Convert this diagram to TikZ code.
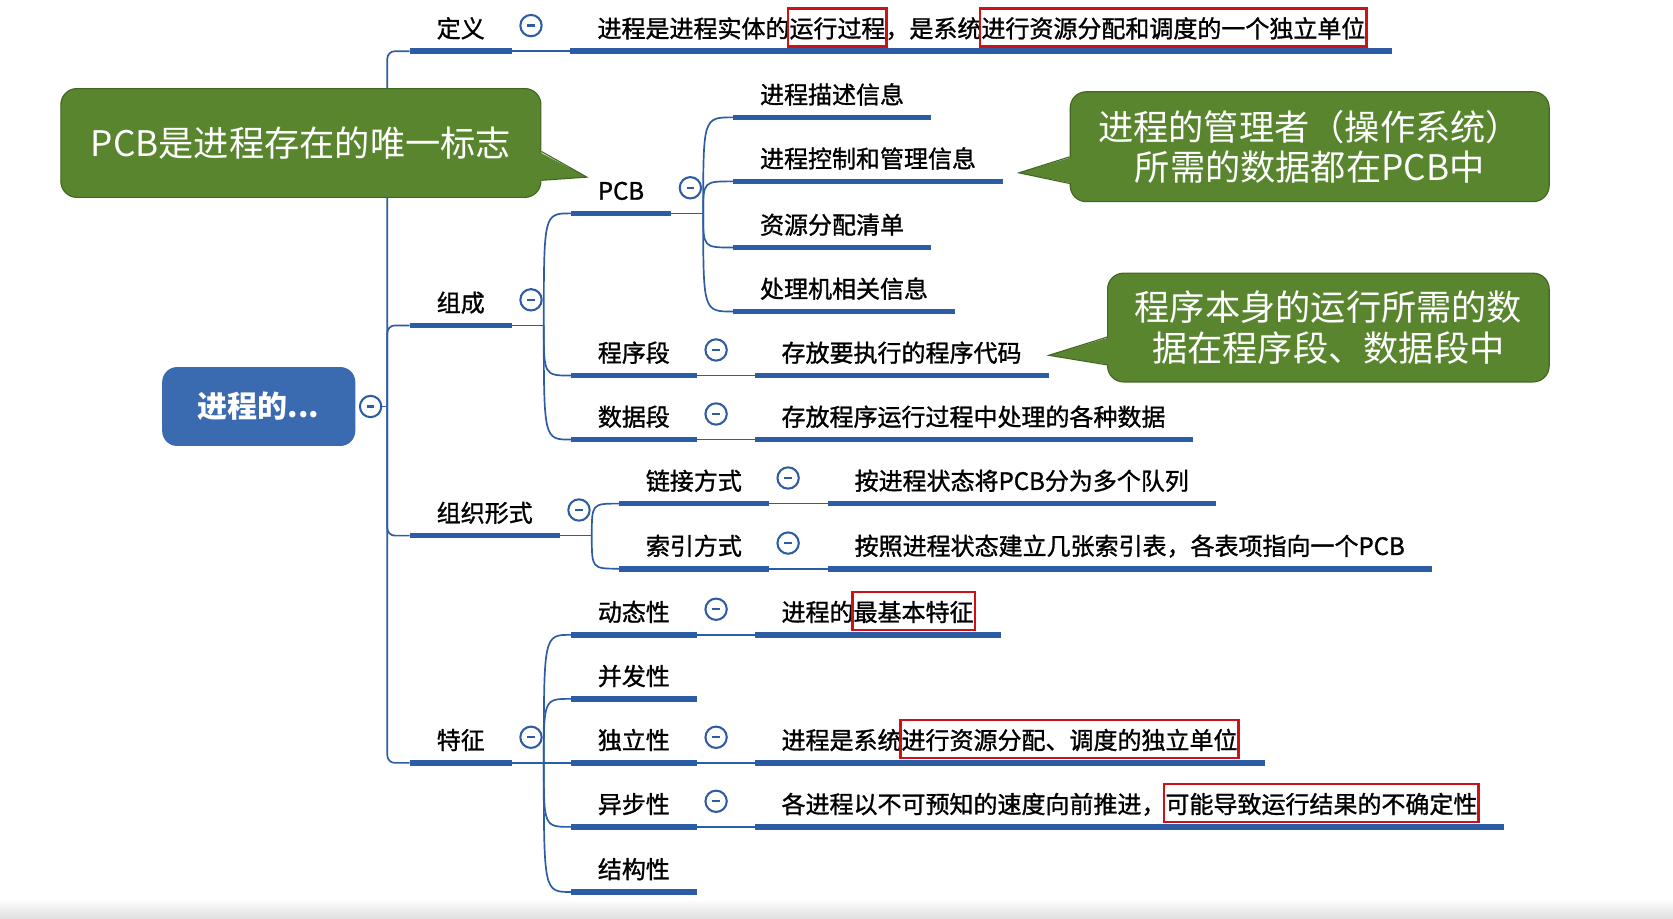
\documentclass[tikz,border=0pt]{standalone}
\usepackage{fontspec}
\setmainfont{Noto Sans CJK SC}
\newfontfamily\labfamily[FakeBold=1.2]{Noto Sans CJK SC}
\usetikzlibrary{calc}

\definecolor{mapblue}{RGB}{44,92,164}
\definecolor{rootblue}{RGB}{58,106,176}
\definecolor{notegreen}{RGB}{89,133,47}
\definecolor{noteedge}{RGB}{66,102,34}
\definecolor{markred}{RGB}{205,17,23}

\newcommand\labfont{\labfamily\fontsize{12.8pt}{15pt}\selectfont}
\newcommand\notefont{\fontsize{18.8pt}{21.5pt}\selectfont}
\newcommand\rootfont{\fontsize{16pt}{18pt}\selectfont\bfseries}
\newcommand\redmark[1]{{\setlength\fboxsep{0pt}\setlength\fboxrule{1.4pt}%
  \kern-1.4pt\fcolorbox{markred}{white}{\rule[-0.14cm]{0pt}{0.66cm}#1}\kern-1.4pt}}

\tikzset{
  lab/.style={font=\labfont, anchor=south west, inner xsep=0.5cm, inner ysep=0.25cm,
    text height=0.4cm, text depth=0pt},
  uline/.style={mapblue, line width=3pt},
  thinline/.style={mapblue, line width=0.9pt},
  fold/.style={circle, draw=mapblue, line width=1.1pt, fill=white, minimum size=0.4cm,
    inner sep=0pt, path picture={\draw[mapblue, line width=1.2pt]
      ([xshift=-0.07cm]path picture bounding box.center) --
      ([xshift=0.07cm]path picture bounding box.center);}},
  rootbox/.style={rounded corners=0.28cm, fill=rootblue, text=white, font=\rootfont,
    minimum width=3.62cm, minimum height=1.48cm},
  note/.style={rounded corners=0.3cm, fill=notegreen, draw=noteedge, line width=0.6pt,
    text=white, font=\notefont, align=center, inner sep=0pt},
  noteline/.style={noteedge, line width=0.6pt},
}

\begin{document}
\begin{tikzpicture}[x=0.02cm, y=-0.02cm]
\useasboundingbox (0,0) rectangle (1568,861);
\shade[top color=white, bottom color=black!12] (0,842) rectangle (1568,861);

% root
\node[rootbox] (root) at (242.5,381) {进程的...};
\node[fold] (rootf) at ($(root.east)+(14,0)$) {};
\coordinate (trunk) at (363,381);

% first level
\node[lab] (def) at (384,48) {定义};
\node[lab] (comp) at (384,305) {组成};
\node[lab] (org) at (384,502) {组织形式};
\node[lab] (feat) at (384,715) {特征};

% 定义
\node[lab] (defl) at ($(def.south east)+(55,0)$) {进程是进程实体的\redmark{运行过程}，是系统\redmark{进行资源分配和调度的一个独立单位}};

% 组成
\coordinate (jcomp) at ($(comp.south east)+(30,0)$);
\node[lab] (pcb) at (535,200) {PCB};
\node[lab] (prog) at (535,352) {程序段};
\node[lab] (data) at (535,412) {数据段};
\node[lab] (progl) at ($(prog.south east)+(54,0)$) {存放要执行的程序代码};
\node[lab] (datal) at ($(data.south east)+(54,0)$) {存放程序运行过程中处理的各种数据};
\coordinate (jpcb) at ($(pcb.south east)+(30,0)$);
\node[lab] (pcbA) at (687,110) {进程描述信息};
\node[lab] (pcbB) at (687,170) {进程控制和管理信息};
\node[lab] (pcbC) at (687,232) {资源分配清单};
\node[lab] (pcbD) at (687,292) {处理机相关信息};

% 组织形式
\coordinate (jorg) at ($(org.south east)+(30,0)$);
\node[lab] (chain) at (580,472) {链接方式};
\node[lab] (idx) at (580,533) {索引方式};
\node[lab] (chainl) at ($(chain.south east)+(55,0)$) {按进程状态将PCB分为多个队列};
\node[lab] (idxl) at ($(idx.south east)+(55,0)$) {按照进程状态建立几张索引表，各表项指向一个PCB};

% 特征
\coordinate (jfeat) at ($(feat.south east)+(30,0)$);
\node[lab] (dyn) at (535,595) {动态性};
\node[lab] (conc) at (535,655) {并发性};
\node[lab] (indep) at (535,715) {独立性};
\node[lab] (async) at (535,775) {异步性};
\node[lab] (struc) at (535,836) {结构性};
\node[lab] (dynl) at ($(dyn.south east)+(54,0)$) {进程的\redmark{最基本特征}};
\node[lab] (indepl) at ($(indep.south east)+(54,0)$) {进程是系统\redmark{进行资源分配、调度的独立单位}};
\node[lab] (asyncl) at ($(async.south east)+(54,0)$) {各进程以不可预知的速度向前推进，\redmark{可能导致运行结果的不确定性}};

% underlines and fold marks
\foreach \n in {def,defl,comp,pcb,pcbA,pcbB,pcbC,pcbD,prog,progl,data,datal,org,chain,chainl,idx,idxl,feat,dyn,dynl,conc,indep,indepl,async,asyncl,struc}
  \draw[uline] (\n.south west) -- (\n.south east);
\foreach \n in {def,comp,pcb,prog,data,org,chain,idx,feat,dyn,indep,async}
  \node[fold] (\n-f) at ($(\n.south east)+(18,-24)$) {};

% connectors
\draw[thinline] (rootf.east) -- (trunk);
\foreach \n in {def,comp,org,feat}
  \draw[thinline, rounded corners=4pt] (trunk) |- (\n.south west);
\foreach \a/\b in {def/defl,prog/progl,data/datal,chain/chainl,idx/idxl,dyn/dynl,indep/indepl,async/asyncl}
  \draw[thinline] (\a.south east) -- (\b.south west);
\draw[thinline] (comp.south east) -- (jcomp);
\foreach \c in {pcb,prog,data}
  \draw[thinline] (jcomp) .. controls (jcomp |- \c.south west) and (jcomp |- \c.south west) .. (\c.south west);
\draw[thinline] (pcb.south east) -- (jpcb);
\foreach \c in {pcbA,pcbB,pcbC,pcbD}
  \draw[thinline] (jpcb) .. controls (jpcb |- \c.south west) and (jpcb |- \c.south west) .. (\c.south west);
\draw[thinline] (org.south east) -- (jorg);
\foreach \c in {chain,idx}
  \draw[thinline] (jorg) .. controls (jorg |- \c.south west) and (jorg |- \c.south west) .. (\c.south west);
\draw[thinline] (feat.south east) -- (jfeat);
\foreach \c in {dyn,conc,indep,async,struc}
  \draw[thinline] (jfeat) .. controls (jfeat |- \c.south west) and (jfeat |- \c.south west) .. (\c.south west);

% callouts
\node[note, minimum width=9cm, minimum height=2.04cm] (c1) at (282,134) {PCB是进程存在的唯一标志};
\coordinate (c1tip) at (550,166);
\fill[notegreen] ($(c1.east)+(-3,8)$) -- (c1tip) -- ($(c1.east)+(-3,35)$) -- cycle;
\draw[noteline] ($(c1.east)+(0,8)$) -- (c1tip) -- ($(c1.east)+(0,35)$);

\node[note, minimum width=8.98cm, minimum height=2.06cm] (c2) at (1227.5,137.5) {进程的管理者（操作系统）\\所需的数据都在PCB中};
\coordinate (c2tip) at (955,162);
\fill[notegreen] ($(c2.west)+(3,9.5)$) -- (c2tip) -- ($(c2.west)+(3,34.5)$) -- cycle;
\draw[noteline] ($(c2.west)+(0,9.5)$) -- (c2tip) -- ($(c2.west)+(0,34.5)$);

\node[note, minimum width=8.28cm, minimum height=2.04cm] (c3) at (1245,307) {程序本身的运行所需的数\\据在程序段、数据段中};
\coordinate (c3tip) at (983,333);
\fill[notegreen] ($(c3.west)+(3,9)$) -- (c3tip) -- ($(c3.west)+(3,35)$) -- cycle;
\draw[noteline] ($(c3.west)+(0,9)$) -- (c3tip) -- ($(c3.west)+(0,35)$);
\end{tikzpicture}
\end{document}
